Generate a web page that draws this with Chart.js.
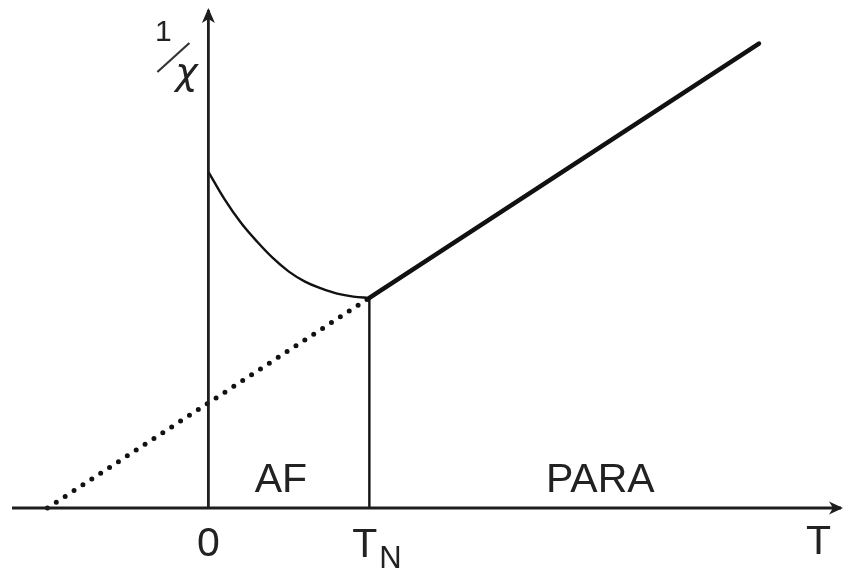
<!DOCTYPE html>
<html>
<head>
<meta charset="utf-8">
<script src="https://cdn.jsdelivr.net/npm/chart.js@4/dist/chart.umd.min.js"></script>
<style>
  html, body { margin: 0; padding: 0; background: #fff; }
  canvas { display: block; }
</style>
</head>
<body>
<canvas id="c" width="844" height="570"></canvas>
<script>
// Inverse susceptibility 1/χ versus temperature T for an antiferromagnet
const tRange = [-1.22, 3.93];          // temperature axis extent (T_N = 1)
const invChiRange = [0, 4.74];         // 1/χ axis extent

// Below T_N: 1/χ rising as T falls to zero
const afT      = [0, 0.1, 0.2, 0.3, 0.4, 0.5, 0.6, 0.7, 0.8, 0.9, 1.0];
const afInvChi = [3.2, 2.94, 2.72, 2.54, 2.38, 2.25, 2.155, 2.09, 2.04, 2.012, 2.0];

// Above T_N: Curie–Weiss straight line
const paraT      = [1, 3.42];
const paraInvChi = [2, 4.42];

// Curie–Weiss extrapolation down to T = -θ
const extrapT      = [-1, 1];
const extrapInvChi = [0, 2];

// Marker at the Néel temperature
const neelT      = [1, 1];
const neelInvChi = [0, 2];

const axisColor = '#1e1e1e';
const ink = '#111';
const textColor = '#222';

const pts = (xs, ys) => xs.map((x, i) => ({ x, y: ys[i] }));

const line = (data, width, extra = {}) => Object.assign({
  data, showLine: true, borderColor: ink, borderWidth: width,
  pointRadius: 0, fill: false, clip: false
}, extra);

// Axes with arrowheads and the text labels, placed from scale values
const annotate = {
  id: 'annotate',
  afterDatasetsDraw(chart) {
    const { ctx, scales: { x, y } } = chart;
    const x0 = x.getPixelForValue(0), y0 = y.getPixelForValue(0);
    const xEnd = x.getPixelForValue(tRange[1]);
    const yTop = y.getPixelForValue(invChiRange[1]);
    ctx.save();
    ctx.fillStyle = axisColor;

    // right arrowhead on T axis
    ctx.beginPath();
    ctx.moveTo(xEnd + 2, y0);
    ctx.lineTo(xEnd - 12, y0 - 6.5);
    ctx.lineTo(xEnd - 8, y0);
    ctx.lineTo(xEnd - 12, y0 + 6.5);
    ctx.closePath();
    ctx.fill();

    // up arrowhead on 1/χ axis
    ctx.beginPath();
    ctx.moveTo(x0, yTop - 2);
    ctx.lineTo(x0 - 6.5, yTop + 13);
    ctx.lineTo(x0, yTop + 9);
    ctx.lineTo(x0 + 6.5, yTop + 13);
    ctx.closePath();
    ctx.fill();

    ctx.fillStyle = textColor;
    ctx.textBaseline = 'alphabetic';
    ctx.textAlign = 'center';
    ctx.font = '41px "Liberation Sans", Arial, sans-serif';
    ctx.fillText('0', x0, y0 + 48);
    ctx.fillText('T', x.getPixelForValue(3.79), y0 + 46);
    ctx.fillText('AF', x.getPixelForValue(0.45), y0 - 16);
    ctx.fillText('PARA', x.getPixelForValue(2.435), y0 - 16);

    // T_N with subscript
    const xn = x.getPixelForValue(1);
    ctx.textAlign = 'left';
    ctx.fillText('T', xn - 17, y0 + 49);
    ctx.font = '31px "Liberation Sans", Arial, sans-serif';
    ctx.fillText('N', xn + 10, y0 + 60);

    // 1/χ written as a slanted fraction
    ctx.textAlign = 'center';
    ctx.font = '30px "Liberation Sans", Arial, sans-serif';
    ctx.fillText('1', x0 - 45, 41);
    ctx.strokeStyle = '#333';
    ctx.lineWidth = 2.2;
    ctx.beginPath();
    ctx.moveTo(x0 - 51, 72);
    ctx.lineTo(x0 - 19, 43);
    ctx.stroke();
    ctx.font = 'italic 38px "DejaVu Sans", sans-serif';
    ctx.fillText('χ', x0 - 22, 84);
    ctx.restore();
  }
};

new Chart(document.getElementById('c'), {
  type: 'scatter',
  data: {
    datasets: [
      line(pts([tRange[0], tRange[1]], [0, 0]), 2.8, { borderColor: axisColor }),
      line(pts([0, 0], [0, invChiRange[1]]), 2.8, { borderColor: axisColor }),
      line(pts(extrapT, extrapInvChi), 5, { borderDash: [0, 10.6], borderCapStyle: 'round' }),
      line(pts(neelT, neelInvChi), 2.4),
      line(pts(afT, afInvChi), 2.4, { tension: 0.4 }),
      line(pts(paraT, paraInvChi), 4.6, { borderCapStyle: 'round' })
    ]
  },
  options: {
    responsive: false,
    animation: false,
    layout: { padding: { left: 12, right: 3, top: 10, bottom: 62 } },
    plugins: { legend: { display: false }, tooltip: { enabled: false } },
    scales: {
      x: { type: 'linear', min: tRange[0], max: tRange[1], display: false },
      y: { type: 'linear', min: invChiRange[0], max: invChiRange[1], display: false }
    }
  },
  plugins: [annotate]
});
</script>
</body>
</html>
